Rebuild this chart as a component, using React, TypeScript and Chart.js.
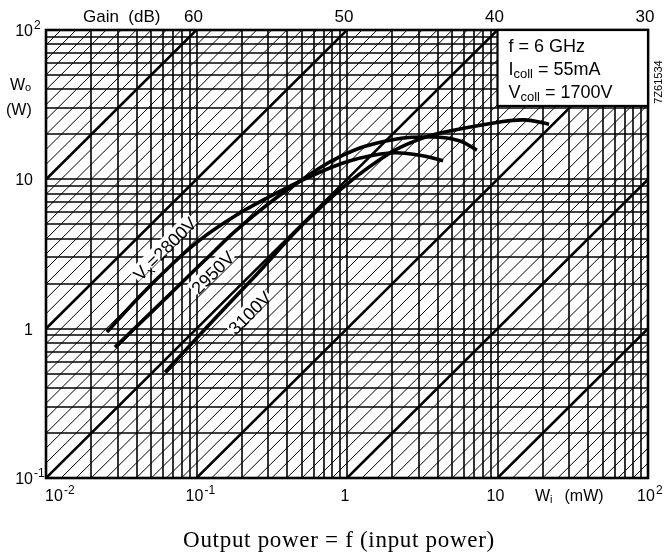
import React, { useEffect, useRef } from 'react';
import { Chart, registerables } from 'chart.js';

Chart.register(...registerables);

// ---------- data ----------
const X_MIN = 0.01;
const X_MAX = 100;
const Y_MIN = 0.1;
const Y_MAX = 100;

const X_DECADES = [0.01, 0.1, 1, 10];
const Y_DECADES = [0.1, 1, 10];
const MANTISSAS = [1, 2, 3, 4, 5, 6, 7, 8, 9];

// gain lines (dB), thin every 1 dB, thick every 10 dB
const GAIN_LINES_DB = [
  0, 1, 2, 3, 4, 5, 6, 7, 8, 9, 10, 11, 12, 13, 14, 15, 16, 17, 18, 19, 20,
  21, 22, 23, 24, 25, 26, 27, 28, 29, 30, 31, 32, 33, 34, 35, 36, 37, 38, 39,
  40, 41, 42, 43, 44, 45, 46, 47, 48, 49, 50, 51, 52, 53, 54, 55, 56, 57, 58,
  59, 60, 61, 62, 63, 64, 65, 66, 67, 68, 69, 70,
];

const GAIN_LABELS = ['60', '50', '40', '30'];
const GAIN_LABEL_X = [0.1, 1, 10, 100];

const X_TICK_BASE = ['10', '10', '1', '10', '10'];
const X_TICK_EXP = ['-2', '-1', '', '', '2'];
const X_TICK_VALUES = [0.01, 0.1, 1, 10, 100];

const Y_TICK_BASE = ['10', '10', '1', '10'];
const Y_TICK_EXP = ['2', '', '', '-1'];
const Y_TICK_VALUES = [100, 10, 1, 0.1];

// curves: input power Wi (mW) -> output power Wo (W)
const WI_2800 = [0.0254, 0.042, 0.067, 0.105, 0.18, 0.294, 0.54, 1.05, 1.93, 3.05, 4.35];
const WO_2800 = [0.95, 1.65, 2.63, 3.92, 5.68, 7.49, 10.2, 13.3, 15.0, 14.5, 13.3];

const WI_2950 = [0.0287, 0.067, 0.114, 0.195, 0.4, 0.94, 1.93, 3.73, 5.64, 7.3];
const WO_2950 = [0.75, 1.71, 2.88, 4.8, 8.48, 14.5, 18.3, 19.2, 18.05, 15.7];

const WI_3100 = [0.0618, 0.12, 0.25, 0.5, 1.0, 1.93, 2.92, 4.15, 10.4, 15.2, 22];
const WO_3100 = [0.51, 1.05, 2.3, 4.9, 9.3, 15.0, 18.3, 20.4, 24.2, 25.0, 23.4];

const CURVE_LABELS = ['2800V', '2950V', '3100V'];

const FONT = '"Liberation Sans", Arial, sans-serif';
const SERIF = '"Liberation Serif", "Times New Roman", serif';

function drawWithSuper(
  ctx: CanvasRenderingContext2D,
  base: string,
  exp: string,
  x: number,
  y: number,
  size: number,
  align: 'left' | 'right' | 'center' | 'baseRight' | 'baseCenter'
) {
  ctx.font = `${size}px ${FONT}`;
  const bw = ctx.measureText(base).width;
  const es = Math.round(size * 0.72);
  ctx.font = `${es}px ${FONT}`;
  const ew = exp ? ctx.measureText(exp).width + 1 : 0;
  let x0 = x;
  if (align === 'right') x0 = x - bw - ew;
  else if (align === 'center') x0 = x - (bw + ew) / 2;
  else if (align === 'baseRight') x0 = x - bw;
  else if (align === 'baseCenter') x0 = x - bw / 2;
  ctx.textAlign = 'left';
  ctx.textBaseline = 'alphabetic';
  ctx.font = `${size}px ${FONT}`;
  ctx.fillText(base, x0, y);
  if (exp) {
    ctx.font = `${es}px ${FONT}`;
    ctx.fillText(exp, x0 + bw + 1, y - size * 0.42);
  }
}

function drawWithSub(
  ctx: CanvasRenderingContext2D,
  parts: { t: string; sub?: boolean }[],
  x: number,
  y: number,
  size: number,
  subSize: number,
  subDrop: number,
  align: 'left' | 'center'
) {
  let total = 0;
  for (const p of parts) {
    ctx.font = `${p.sub ? subSize : size}px ${FONT}`;
    total += ctx.measureText(p.t).width;
  }
  let cx = align === 'center' ? x - total / 2 : x;
  ctx.textAlign = 'left';
  ctx.textBaseline = 'alphabetic';
  for (const p of parts) {
    ctx.font = `${p.sub ? subSize : size}px ${FONT}`;
    ctx.fillText(p.t, cx, p.sub ? y + subDrop : y);
    cx += ctx.measureText(p.t).width;
  }
  return total;
}

const paperPlugin = {
  id: 'paper',
  beforeDatasetsDraw(chart: any) {
    const { ctx, chartArea: a, scales } = chart;
    const xs = scales.x;
    const ys = scales.y;
    ctx.save();
    ctx.fillStyle = '#fff';
    ctx.fillRect(0, 0, chart.width, chart.height);
    ctx.beginPath();
    ctx.rect(a.left, a.top, a.right - a.left, a.bottom - a.top);
    ctx.clip();
    ctx.strokeStyle = '#000';
    ctx.lineCap = 'butt';
    // gain lines
    for (const g of GAIN_LINES_DB) {
      const k = Math.pow(10, g / 10) / 1000;
      const xa = X_MIN / 100;
      const xb = X_MAX * 100;
      ctx.lineWidth = g % 10 === 0 ? 2.6 : 1;
      ctx.strokeStyle = '#000';
      ctx.beginPath();
      ctx.moveTo(xs.getPixelForValue(xa), ys.getPixelForValue(xa * k));
      ctx.lineTo(xs.getPixelForValue(xb), ys.getPixelForValue(xb * k));
      ctx.stroke();
    }
    // grid
    ctx.strokeStyle = '#000';
    ctx.lineWidth = 1.6;
    for (const d of X_DECADES) {
      for (const m of MANTISSAS) {
        const px = Math.round(xs.getPixelForValue(d * m));
        ctx.beginPath();
        ctx.moveTo(px, a.top);
        ctx.lineTo(px, a.bottom);
        ctx.stroke();
      }
    }
    for (const d of Y_DECADES) {
      for (const m of MANTISSAS) {
        const py = Math.round(ys.getPixelForValue(d * m));
        ctx.beginPath();
        ctx.moveTo(a.left, py);
        ctx.lineTo(a.right, py);
        ctx.stroke();
      }
    }

    // curve labels (white knock-out, curves drawn over them)
    const labelPos = [
      { x: 0.0618, y: 3.41, parts: [{ t: 'V' }, { t: 'x', sub: true }, { t: '=2800V' }] },
      { x: 0.1287, y: 2.36, parts: [{ t: CURVE_LABELS[1] }] },
      { x: 0.2267, y: 1.27, parts: [{ t: CURVE_LABELS[2] }] },
    ];
    labelPos.forEach((l) => {
      const px = xs.getPixelForValue(l.x);
      const py = ys.getPixelForValue(l.y);
      ctx.save();
      ctx.translate(px, py);
      ctx.rotate((-45 * Math.PI) / 180);
      let total = 0;
      for (const p of l.parts) {
        ctx.font = `${(p as any).sub ? 12 : 18}px ${FONT}`;
        total += ctx.measureText(p.t).width;
      }
      ctx.fillStyle = '#fff';
      ctx.fillRect(-total / 2 - 1, -10, total + 2, 14);
      ctx.fillStyle = '#000';
      drawWithSub(ctx, l.parts, 0, 6, 18, 12, 3, 'center');
      ctx.restore();
    });
    ctx.restore();
    // frame
    ctx.save();
    ctx.strokeStyle = '#000';
    ctx.lineWidth = 2.6;
    ctx.strokeRect(a.left, a.top, a.right - a.left, a.bottom - a.top);
    ctx.restore();
  },
  afterDatasetsDraw(chart: any) {
    const { ctx, chartArea: a, scales } = chart;
    const xs = scales.x;
    const ys = scales.y;
    ctx.save();
    ctx.fillStyle = '#000';

    // y tick labels
    Y_TICK_VALUES.forEach((v, i) => {
      const py = ys.getPixelForValue(v);
      drawWithSuper(ctx, Y_TICK_BASE[i], Y_TICK_EXP[i], 33, py + 6, 16, 'baseRight');
    });
    // x tick labels
    X_TICK_VALUES.forEach((v, i) => {
      const px = xs.getPixelForValue(v);
      drawWithSuper(ctx, X_TICK_BASE[i], X_TICK_EXP[i], i === 0 ? px + 8 : px - 2, 501, 16, 'baseCenter');
    });
    // top gain labels
    GAIN_LABELS.forEach((t, i) => {
      const px = xs.getPixelForValue(GAIN_LABEL_X[i]);
      ctx.font = `17px ${FONT}`;
      ctx.textAlign = 'center';
      ctx.textBaseline = 'alphabetic';
      ctx.fillText(t, px - 3, 22);
    });
    ctx.font = `17px ${FONT}`;
    ctx.textAlign = 'left';
    ctx.fillText('Gain  (dB)', 83, 22);

    // axis titles
    drawWithSub(ctx, [{ t: 'W' }, { t: 'o', sub: true }], 10, 90, 16, 11, 1, 'left');
    ctx.font = `16px ${FONT}`;
    ctx.textAlign = 'left';
    ctx.fillText('(W)', 6, 115);
    const wx = drawWithSub(ctx, [{ t: 'W' }, { t: 'i', sub: true }], 535, 501, 16, 11, 2, 'left');
    ctx.font = `16px ${FONT}`;
    ctx.fillText('(mW)', 535 + wx + 12, 501);

    // caption
    ctx.save();
    ctx.font = `23px ${SERIF}`;
    (ctx as any).letterSpacing = '0.7px';
    ctx.textAlign = 'center';
    ctx.fillText('Output power = f (input power)', 339, 547);
    ctx.restore();

    // legend box
    const bl = xs.getPixelForValue(10);
    const bb = ys.getPixelForValue(31);
    ctx.fillStyle = '#fff';
    ctx.fillRect(bl, a.top, a.right - bl, bb - a.top);
    ctx.strokeStyle = '#000';
    ctx.lineWidth = 2.2;
    ctx.strokeRect(bl, a.top, a.right - bl, bb - a.top);
    ctx.fillStyle = '#000';
    drawWithSub(ctx, [{ t: 'f = 6 GHz' }], bl + 11, a.top + 22, 18, 13, 3, 'left');
    drawWithSub(ctx, [{ t: 'I' }, { t: 'coll', sub: true }, { t: ' = 55mA' }], bl + 11, a.top + 45, 18, 13, 3, 'left');
    drawWithSub(ctx, [{ t: 'V' }, { t: 'coll', sub: true }, { t: ' = 1700V' }], bl + 11, a.top + 68, 18, 13, 3, 'left');

    // drawing number
    ctx.save();
    ctx.translate(662, 82);
    ctx.rotate(-Math.PI / 2);
    ctx.font = `11px ${FONT}`;
    ctx.textAlign = 'center';
    ctx.fillStyle = '#000';
    ctx.fillText('7Z61534', 0, 0);
    ctx.restore();

    ctx.restore();
  },
};

function toPoints(xs: number[], ys: number[]) {
  return xs.map((x, i) => ({ x, y: ys[i] }));
}

export default function App() {
  const canvasRef = useRef<HTMLCanvasElement | null>(null);
  useEffect(() => {
    const canvas = canvasRef.current;
    if (!canvas) return;
    const curve = (xs: number[], ys: number[]) => ({
      data: toPoints(xs, ys),
      showLine: true,
      borderColor: '#000',
      borderWidth: 3.6,
      pointRadius: 0,
      tension: 0.4,
      fill: false,
    });
    const chart = new Chart(canvas, {
      type: 'scatter',
      data: {
        datasets: [
          curve(WI_2800, WO_2800),
          curve(WI_2950, WO_2950),
          curve(WI_3100, WO_3100),
        ],
      },
      options: {
        responsive: false,
        animation: false,
        devicePixelRatio: 1,
        layout: { padding: { left: 46, right: 17, top: 30, bottom: 80 } },
        scales: {
          x: { type: 'logarithmic', min: X_MIN, max: X_MAX, display: false },
          y: { type: 'logarithmic', min: Y_MIN, max: Y_MAX, display: false },
        },
        plugins: { legend: { display: false }, tooltip: { enabled: false } },
      },
      plugins: [paperPlugin],
    } as any);
    return () => chart.destroy();
  }, []);
  return (
    <div style={{ position: 'fixed', left: 0, top: 0, width: 665, height: 558, background: '#fff' }}>
      <canvas ref={canvasRef} width={665} height={558} style={{ display: 'block' }} />
    </div>
  );
}
